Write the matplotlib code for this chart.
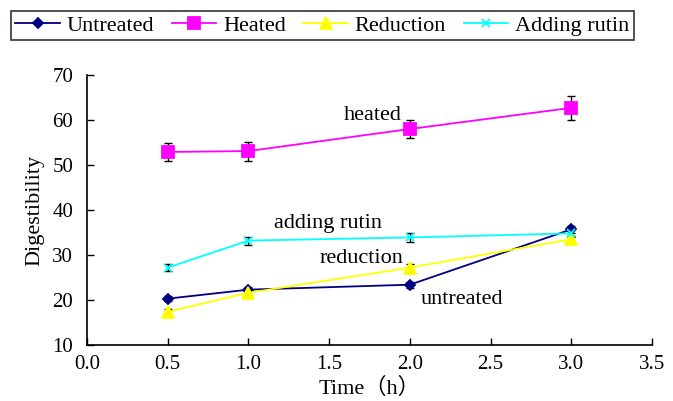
import matplotlib.pyplot as plt

plt.rcParams['font.family'] = ['Liberation Serif', 'DejaVu Serif']

# data
time_h = [0.5, 1.0, 2.0, 3.0]
untreated = [20.3, 22.3, 23.4, 35.7]
heated = [52.9, 53.1, 58.0, 62.7]
reduction = [17.4, 21.6, 27.2, 33.5]
rutin = [27.2, 33.2, 33.9, 34.8]

err_untreated = [0.6, 0.6, 0.7, 0.8]
err_heated = [2.1, 2.1, 2.1, 2.6]
err_reduction = [0.7, 0.6, 0.7, 0.7]
err_rutin = [0.8, 0.9, 0.9, 0.8]

fig = plt.figure(figsize=(6.73, 4.01), dpi=100)
ax = fig.add_axes([87 / 673, 56 / 401, 565 / 673, 270 / 401])

series = [
    ('Untreated', untreated, err_untreated, '#000080', 'D', 5, '#000080'),
    ('Heated', heated, err_heated, '#ff00ff', 's', 8, '#ff00ff'),
    ('Reduction', reduction, err_reduction, '#ffff00', '^', 8, '#ffff00'),
    ('Adding rutin', rutin, err_rutin, '#00ffff', 'x', 6, '#00ffff'),
]

handles = []
for name, vals, err, col, mk, ms, mc in series:
    ax.errorbar(time_h, vals, yerr=err, fmt='none', ecolor='black',
                elinewidth=1, capsize=3, capthick=1, zorder=2)
    h, = ax.plot(time_h, vals, color=col, linewidth=1.3, marker=mk,
                 markersize=ms, markerfacecolor=mc, markeredgecolor=mc,
                 markeredgewidth=1.3, label=name, zorder=3)
    handles.append(h)

ax.set_xlim(0, 3.5)
ax.set_ylim(10, 70)
ax.set_xticks([0.0, 0.5, 1.0, 1.5, 2.0, 2.5, 3.0, 3.5])
ax.set_xticklabels(['0.0', '0.5', '1.0', '1.5', '2.0', '2.5', '3.0', '3.5'])
ax.set_yticks([10, 20, 30, 40, 50, 60, 70])
ax.tick_params(direction='in', length=5, width=1, labelsize=15)
ax.tick_params(axis='y', pad=10)
ax.tick_params(axis='x', pad=7)
ax.spines['top'].set_visible(False)
ax.spines['right'].set_visible(False)
for s in ['left', 'bottom']:
    ax.spines[s].set_linewidth(1.2)

ax.set_xlabel('Time\uff08h\uff09', fontsize=16, labelpad=3,
              family=['Liberation Serif', 'Noto Sans CJK SC'])
ax.set_ylabel('Digestibility', fontsize=16, labelpad=6)

ax.text(1.77, 61.1, 'heated', fontsize=16, ha='center', va='center')
ax.text(1.49, 37.1, 'adding rutin', fontsize=16, ha='center', va='center')
ax.text(1.70, 29.3, 'reduction', fontsize=16, ha='center', va='center')
ax.text(2.32, 20.0, 'untreated', fontsize=16, ha='center', va='center')

leg = fig.legend(handles=handles, loc='upper left', ncol=4,
                 bbox_to_anchor=(11 / 673, 1 - 11 / 401), fontsize=16,
                 frameon=True, fancybox=False, edgecolor='black',
                 handlelength=2.0, handletextpad=0.3, columnspacing=0.8,
                 borderpad=0.2, borderaxespad=0)
leg.get_frame().set_linewidth(1.2)

fig.savefig('out.png', dpi=100)
